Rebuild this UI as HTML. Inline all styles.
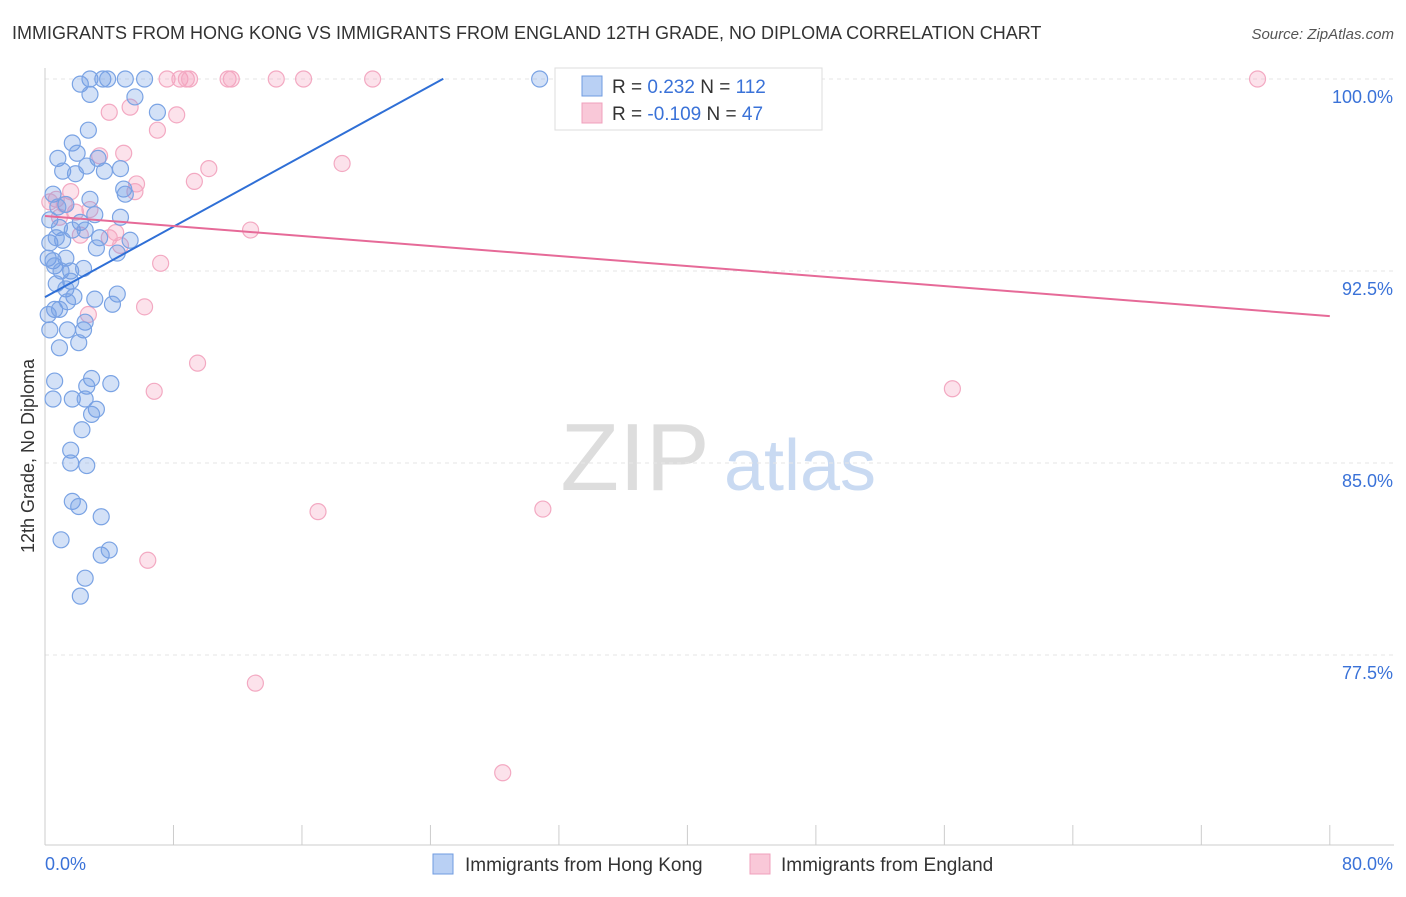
<!DOCTYPE html>
<html><head><meta charset="utf-8"><style>
body{margin:0;background:#fff;font-family:"Liberation Sans",sans-serif}
svg text{font-family:"Liberation Sans",sans-serif}
</style></head><body>
<svg id="chart" width="1406" height="892" xmlns="http://www.w3.org/2000/svg">
<text x="12" y="39" font-size="18" fill="#333">IMMIGRANTS FROM HONG KONG VS IMMIGRANTS FROM ENGLAND 12TH GRADE, NO DIPLOMA CORRELATION CHART</text>
<text x="1394" y="39" font-size="15" fill="#555" text-anchor="end" font-style="italic">Source: ZipAtlas.com</text>
<text transform="translate(34,456) rotate(-90)" font-size="18" fill="#333" text-anchor="middle">12th Grade, No Diploma</text>
<g>
<text x="635" y="490" font-size="96" fill="#ddd" text-anchor="middle" font-family="Liberation Serif,serif">ZIP</text>
<text x="800" y="490" font-size="72" fill="#c9daf2" text-anchor="middle">atlas</text>
</g>
<g id="grid"></g><g id="axes"></g><g id="marks"></g>
<g>
<rect x="555" y="68" width="267" height="62" fill="#fff" stroke="#ddd"/>
<rect x="582" y="76" width="20" height="20" fill="#b9d0f4" stroke="#6f9be0"/>
<rect x="582" y="103" width="20" height="20" fill="#f9c8d8" stroke="#f0a0bc"/>
<text x="612" y="93" font-size="19" fill="#333">R = <tspan fill="#3a72d8"> 0.232</tspan>   N = <tspan fill="#3a72d8">112</tspan></text>
<text x="612" y="120" font-size="19" fill="#333">R = <tspan fill="#3a72d8">-0.109</tspan>   N = <tspan fill="#3a72d8"> 47</tspan></text>
</g>
<g>
<rect x="433" y="854" width="20" height="20" fill="#b9d0f4" stroke="#6f9be0"/>
<text x="465" y="871" font-size="19" fill="#333">Immigrants from Hong Kong</text>
<rect x="750" y="854" width="20" height="20" fill="#f9c8d8" stroke="#f0a0bc"/>
<text x="781" y="871" font-size="19" fill="#333">Immigrants from England</text>
</g>
</svg>
<script>
const yTicks=[100,92.5,85,77.5];
const yTickLabels=["100.0%","92.5%","85.0%","77.5%"];
const xTickLabels=["0.0%","80.0%"];
const hkX=[2.8,3.6,3.9,5.0,6.2,30.8,2.2,2.8,5.6,7.0,2.7,1.7,0.8,3.3,2.0,2.6,1.1,1.9,3.7,4.7,0.5,4.9,5.0,2.8,1.3,0.8,3.1,4.7,0.3,2.2,0.9,1.7,2.5,3.4,5.3,0.3,1.1,0.7,3.2,4.5,0.2,0.5,1.3,1.6,2.4,0.6,1.0,1.6,0.7,1.3,1.8,3.1,4.5,4.2,0.6,1.4,0.2,0.9,2.5,0.3,1.4,2.4,2.1,0.9,0.6,4.1,2.9,2.6,0.5,1.7,2.5,3.2,2.9,2.3,1.6,1.6,2.6,1.7,2.1,3.5,1.0,3.5,4.0,2.5,2.2];
const hkY=[100,100,100,100,100,100,99.8,99.4,99.3,98.7,98.0,97.5,96.9,96.9,97.1,96.6,96.4,96.3,96.4,96.5,95.5,95.7,95.5,95.3,95.1,95.0,94.7,94.6,94.5,94.4,94.2,94.1,94.1,93.8,93.7,93.6,93.7,93.8,93.4,93.2,93.0,92.9,93.0,92.5,92.6,92.7,92.5,92.1,92.0,91.8,91.5,91.4,91.6,91.2,91.0,91.3,90.8,91.0,90.5,90.2,90.2,90.2,89.7,89.5,88.2,88.1,88.3,88.0,87.5,87.5,87.5,87.1,86.9,86.3,85.5,85.0,84.9,83.5,83.3,82.9,82.0,81.4,81.6,80.5,79.8];
const enX=[7.6,8.4,8.8,9.0,11.4,11.6,14.4,16.1,20.4,32.9,75.5,5.3,4.0,8.2,7.0,4.9,3.4,10.2,18.5,9.3,5.7,5.6,1.6,0.7,1.2,2.8,1.9,12.8,4.4,2.2,4.0,4.7,7.2,6.2,2.7,9.5,6.8,56.5,17.0,31.0,6.4,13.1,28.5,0.3,0.9];
const enY=[100,100,100,100,100,100,100,100,100,100,100,98.9,98.7,98.6,98.0,97.1,97.0,96.5,96.7,96.0,95.9,95.6,95.6,95.3,95.1,94.9,94.8,94.1,94.0,93.9,93.8,93.5,92.8,91.1,90.8,88.9,87.8,87.9,83.1,83.2,81.2,76.4,72.9,95.2,94.6];
const hkTrend=[91.48,0.344]; // intercept, slope
const hkTrendEnd=[0,24.8];
const enTrend=[94.65,-0.0489];
const enTrendEnd=[0,80];
const X=v=>45+v*16.06, Y=v=>79+(100-v)*25.6;
const NS="http://www.w3.org/2000/svg";
function mk(tag,attrs,parent){const e=document.createElementNS(NS,tag);for(const k in attrs)e.setAttribute(k,attrs[k]);document.getElementById(parent).appendChild(e);return e;}
yTicks.forEach((t,i)=>{
 const g=mk('line',{x1:45,x2:1394,y1:Y(t),y2:Y(t),stroke:'#e6e6e6','stroke-dasharray':'4,4'},'grid');
 
 
 const l=mk('text',{x:1393,y:Y(t)+24,'font-size':18,fill:'#3a72d8','text-anchor':'end'},'axes');
 l.textContent=yTickLabels[i];
 
 
});
const ax=mk('line',{x1:45,x2:45,y1:68,y2:845,stroke:'#ccc'},'axes');


const bx=mk('line',{x1:45,x2:1394,y1:845,y2:845,stroke:'#ccc'},'axes');


for(let i=0;i<=10;i++){
 const t=mk('line',{x1:X(i*8),x2:X(i*8),y1:825,y2:845,stroke:'#ccc'},'axes');
 
 
}
[[0,'start',45],[1,'end',1393]].forEach(([i,a,x])=>{
 const l=mk('text',{x:x,y:870,'font-size':18,fill:'#3a72d8','text-anchor':a},'axes');
 l.textContent=xTickLabels[i];
 
 
});
enX.forEach((v,i)=>{
 const c=mk('circle',{cx:X(v),cy:Y(enY[i]),r:8,fill:'rgba(244,160,190,0.3)',stroke:'#f3a9c2','stroke-width':1.2},'marks');
 
 
});
hkX.forEach((v,i)=>{
 const c=mk('circle',{cx:X(v),cy:Y(hkY[i]),r:8,fill:'rgba(110,155,230,0.3)',stroke:'#7aa3e4','stroke-width':1.2},'marks');
 
 
});
const t1=mk('line',{x1:X(hkTrendEnd[0]),y1:Y(hkTrend[0]+hkTrend[1]*hkTrendEnd[0]),x2:X(hkTrendEnd[1]),y2:Y(hkTrend[0]+hkTrend[1]*hkTrendEnd[1]),stroke:'#2f6fd6','stroke-width':2},'marks');


const t2=mk('line',{x1:X(enTrendEnd[0]),y1:Y(enTrend[0]+enTrend[1]*enTrendEnd[0]),x2:X(enTrendEnd[1]),y2:Y(enTrend[0]+enTrend[1]*enTrendEnd[1]),stroke:'#e66a98','stroke-width':2},'marks');


</script>
</body></html>
